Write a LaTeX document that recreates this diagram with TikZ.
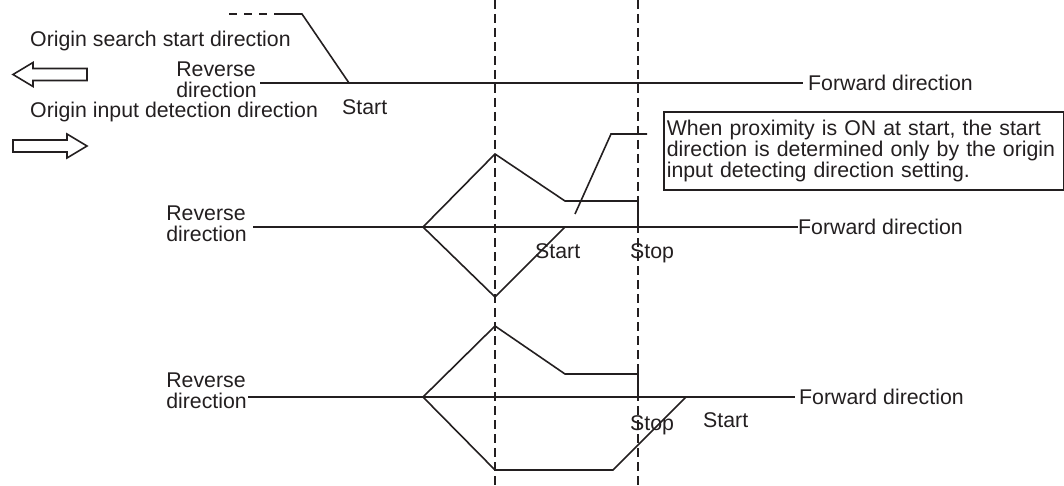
\documentclass[tikz,border=0pt]{standalone}
\usepackage{fontspec}
\setmainfont{Liberation Sans}
\usetikzlibrary{positioning}
\definecolor{InkBlack}{RGB}{35,31,32}
\tikzset{
  axisline/.style={draw=InkBlack,line width=1.6pt},
  profile/.style={draw=InkBlack,line width=1.6pt,line join=miter},
  guide/.style={draw=InkBlack,line width=2pt,dash pattern=on 9pt off 5pt},
  tracedash/.style={draw=InkBlack,line width=1.6pt,dash pattern=on 8pt off 7pt},
  lbl/.style={font=\fontsize{21.3}{21}\selectfont,text=InkBlack,inner sep=0pt},
  revlbl/.style={lbl,align=left},
  notebox/.style={draw=InkBlack,line width=1.6pt,font=\fontsize{21.3}{21}\selectfont,
    text=InkBlack,align=left,text width=394pt,inner xsep=3pt,inner ysep=0pt,
    minimum height=78pt,anchor=north west},
  hollow/.style={draw=InkBlack,line width=1.6pt,fill=white,line join=miter}
}

\begin{document}
\begin{tikzpicture}[x=1pt,y=-1pt]
  \useasboundingbox (0,0) rectangle (1064,486);

  % vertical guides
  \coordinate (gOneTop) at (495,0);
  \coordinate (gOneBot) at (495,486);
  \coordinate (gTwoTop) at (638,0);
  \coordinate (gTwoBot) at (638,486);
  \draw[guide] (gOneTop) -- (gOneBot);
  \draw[guide] (gTwoTop) -- (gTwoBot);

  % legend
  \node[lbl,anchor=base west] (searchLbl) at (30,46.5) {Origin search start direction};
  \node[lbl,anchor=base west] (inputLbl) at (30,118) {Origin input detection direction};
  \draw[hollow] (13,74.5) -- (33,62.5) -- (33,68.5) -- (87,68.5) -- (87,80.5)
    -- (33,80.5) -- (33,86.5) -- cycle;
  \draw[hollow] (87,146) -- (67,134) -- (67,140) -- (13,140) -- (13,152)
    -- (67,152) -- (67,158) -- cycle;

  % top case
  \coordinate (topL) at (260,83);
  \coordinate (topR) at (803,83);
  \draw[axisline] (topL) -- (topR);
  \node[revlbl,left=3pt of topL,yshift=3pt] (topRev) {Reverse\\direction};
  \node[lbl,right=5pt of topR] (topFwd) {Forward direction};
  \coordinate (topA) at (229,14);
  \coordinate (topB) at (280,14);
  \coordinate (topC) at (302,14);
  \coordinate (topS) at (349,83);
  \draw[tracedash] (topA) -- (topB);
  \draw[profile] (topB) -- (topC) -- (topS);
  \node[lbl,anchor=base west] (topStart) at (342,115) {Start};

  % middle case
  \coordinate (midL) at (253,227);
  \coordinate (midR) at (798,227);
  \draw[axisline] (midL) -- (midR);
  \node[revlbl,left=6pt of midL,yshift=3pt] (midRev) {Reverse\\direction};
  \node[lbl,right=0pt of midR] (midFwd) {Forward direction};
  \coordinate (midO) at (423,227);
  \draw[profile] (midO) -- (495,154) -- (565,201) -- (638,201) -- (638,227);
  \draw[profile] (midO) -- (495,297) -- (565,227);
  \node[lbl,anchor=base west] (midStart) at (535,258) {Start};
  \node[lbl,anchor=base west] (midStop) at (630,258) {Stop};

  % note
  \node[notebox] (note) at (663,111) {When proximity is ON at start, the start\\
    direction is determined only by the origin\\input detecting direction setting.};
  \coordinate (leadA) at (575,214);
  \coordinate (leadB) at (611,134);
  \coordinate (leadC) at (647,134);
  \draw[profile] (leadA) -- (leadB) -- (leadC);

  % bottom case
  \coordinate (botL) at (248,397);
  \coordinate (botR) at (795,397);
  \draw[axisline] (botL) -- (botR);
  \node[revlbl,left=1pt of botL,yshift=6pt] (botRev) {Reverse\\direction};
  \node[lbl,right=4pt of botR] (botFwd) {Forward direction};
  \coordinate (botO) at (423,397);
  \draw[profile] (botO) -- (495,326) -- (565,374) -- (638,374) -- (638,397);
  \draw[profile] (botO) -- (495,470) -- (613,470) -- (686,397);
  \node[lbl,anchor=base west] (botStop) at (630,430) {Stop};
  \node[lbl,anchor=base west] (botStart) at (703,427) {Start};
\end{tikzpicture}
\end{document}
